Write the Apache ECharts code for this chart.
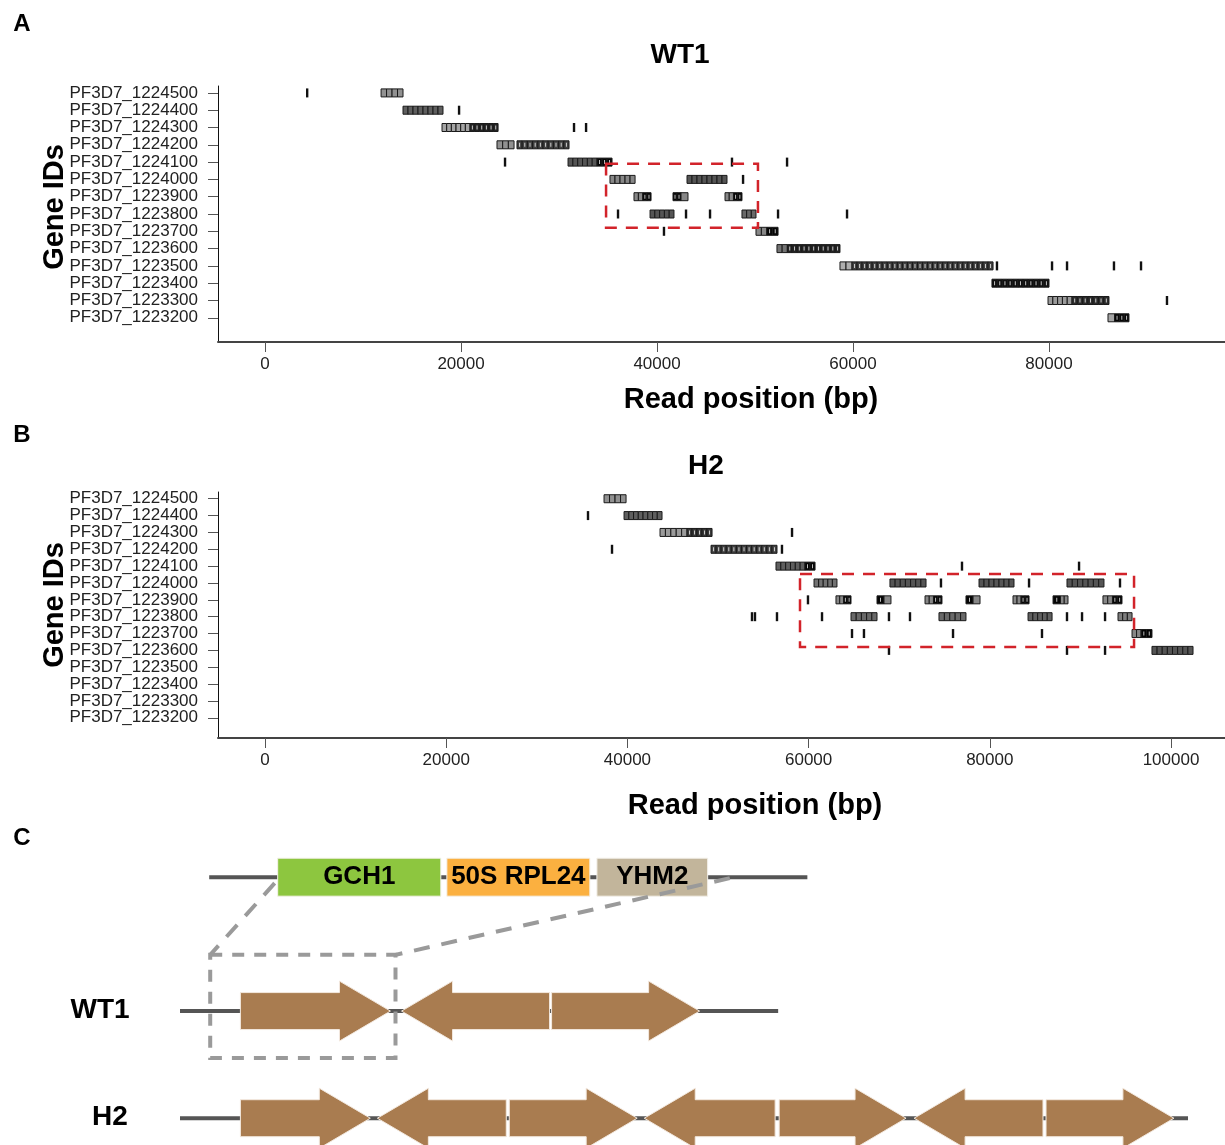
<!DOCTYPE html>
<html>
<head>
<meta charset="utf-8">
<title>Read coverage WT1 / H2</title>
<script src="https://cdn.jsdelivr.net/npm/echarts@6/dist/echarts.min.js"></script>
<style>
  html, body { margin: 0; padding: 0; background: #fff; }
  #chart { width: 1225px; height: 1145px; }
</style>
</head>
<body>
<div id="chart"></div>
<script>
// gene rows, top to bottom
const geneIds = [
  'PF3D7_1224500', 'PF3D7_1224400', 'PF3D7_1224300', 'PF3D7_1224200',
  'PF3D7_1224100', 'PF3D7_1224000', 'PF3D7_1223900', 'PF3D7_1223800',
  'PF3D7_1223700', 'PF3D7_1223600', 'PF3D7_1223500', 'PF3D7_1223400',
  'PF3D7_1223300', 'PF3D7_1223200'
]
const xTicksA = [0, 20000, 40000, 60000, 80000]
const xTicksB = [0, 20000, 40000, 60000, 80000, 100000]

// read blocks: [start bp, end bp, row, shade 0 light .. 1 black]
const readsA = [
  [11840, 14080, 0, 0.3],
  [14080, 18160, 1, 0.55],
  [18060, 20920, 2, 0.2], [20920, 23780, 2, 0.85],
  [23670, 25410, 3, 0.3], [25710, 31020, 3, 0.7],
  [30920, 33880, 4, 0.6], [33880, 35410, 4, 1],
  [35200, 37760, 5, 0.35], [43060, 47140, 5, 0.6],
  [37650, 38550, 6, 0.35], [38550, 39390, 6, 1], [41630, 42450, 6, 1], [42450, 43160, 6, 0.35],
  [46940, 47800, 6, 0.35], [47800, 48670, 6, 1],
  [39290, 41730, 7, 0.6], [48670, 50100, 7, 0.5],
  [50100, 51200, 8, 0.35], [51200, 52350, 8, 1],
  [52240, 53300, 9, 0.45], [53300, 58670, 9, 0.85],
  [58670, 59900, 10, 0.15], [59900, 74290, 10, 0.7],
  [74180, 80000, 11, 0.95],
  [79900, 82350, 12, 0.25], [82350, 86120, 12, 0.8],
  [86020, 86700, 13, 0.2], [86700, 88160, 13, 1]
]
// isolated single reads: [position bp, row]
const singlesA = [
  [4300, 0], [19800, 1], [31530, 2], [32760, 2], [24490, 4], [47650, 4], [53270, 4],
  [48780, 5], [36020, 7], [42960, 7], [45410, 7], [52350, 7], [59390, 7], [40710, 8],
  [74690, 10], [80310, 10], [81840, 10], [86630, 10], [89390, 10], [92040, 12]
]
const regionA = [[34800, 50300, 4.1, 7.8]]

const readsB = [
  [37420, 39850, 0, 0.3],
  [39630, 43820, 1, 0.55],
  [43600, 46580, 2, 0.25], [46580, 49340, 2, 0.75],
  [49230, 56510, 3, 0.7],
  [56400, 59600, 4, 0.55], [59600, 60710, 4, 1],
  [60600, 63130, 5, 0.45], [68980, 72960, 5, 0.6], [78810, 82670, 5, 0.6], [88520, 92600, 5, 0.6],
  [63020, 63850, 6, 0.35], [63850, 64680, 6, 1], [67550, 68320, 6, 1], [68320, 69090, 6, 0.35],
  [72850, 73780, 6, 0.35], [73780, 74720, 6, 1], [77370, 78150, 6, 1], [78150, 78920, 6, 0.35],
  [82560, 83450, 6, 0.35], [83450, 84330, 6, 1], [86980, 87800, 6, 1], [87800, 88630, 6, 0.35],
  [92490, 93540, 6, 0.35], [93540, 94590, 6, 1],
  [64680, 67550, 7, 0.5], [74390, 77370, 7, 0.5], [84220, 86870, 7, 0.55], [94150, 95700, 7, 0.4],
  [95700, 96700, 8, 0.35], [96700, 97900, 8, 1],
  [97900, 102430, 9, 0.6]
]
const singlesB = [
  [35650, 1], [58170, 2], [38300, 3], [57060, 3], [76930, 4], [89850, 4],
  [74610, 5], [84330, 5], [94370, 5], [59930, 6],
  [53750, 7], [54080, 7], [56510, 7], [61480, 7], [68870, 7], [71190, 7], [88520, 7], [90180, 7], [92720, 7],
  [64790, 8], [66110, 8], [75940, 8], [85760, 8],
  [68870, 9], [88520, 9], [92720, 9]
]
const regionB = [[59050, 95920, 4.46, 8.8]]

// panel C schematic (x in % of track, lane: 0 = locus, 1 = WT1, 1.8 = H2)
const backbones = [[2.9, 62.3, 0], [0, 59.4, 1], [0, 100.1, 1.8]]
const locusGenes = [[9.7, 25.9, 0, 'GCH1'], [26.5, 40.7, 0, '50S RPL24'], [41.4, 52.4, 0, 'YHM2']]
const wt1Units = [[6.0, 20.9, 1, 1], [22.0, 36.7, 1, -1], [36.9, 51.6, 1, 1]]
const h2Units = [
  [6.0, 18.9, 1.8, 1], [19.6, 32.4, 1.8, -1], [32.7, 45.4, 1.8, 1], [46.1, 59.1, 1.8, -1],
  [59.5, 72.1, 1.8, 1], [72.9, 85.7, 1.8, -1], [86.0, 98.7, 1.8, 1]
]
const zoomBox = [[3.0, 21.4, 0.58, 1.35]]
const zoomLinks = [[9.4, 0.045, 3.0, 0.58], [54.6, 0.007, 21.4, 0.58]]

const geneColors = { 'GCH1': '#8dc63f', '50S RPL24': '#fbb040', 'YHM2': '#c2b59b' }
const FONT = "'Liberation Sans', Arial, Helvetica, sans-serif"

const chart = echarts.init(document.getElementById('chart'))

const grey = (s) => {
  const g = Math.round(205 - 200 * s)
  return `rgb(${g},${g},${g})`
}

function renderReads(params, api) {
  const s = api.coord([api.value(0), api.value(2)])
  const e = api.coord([api.value(1), api.value(2)])
  const shade = api.value(3)
  const h = 8
  const w = Math.max(e[0] - s[0], 3)
  const n = Math.max(1, Math.round(w / 5))
  const cw = w / n
  const children = []
  for (let i = 0; i < n; i++) {
    children.push({
      type: 'rect',
      shape: { x: s[0] + i * cw, y: s[1] - h / 2, width: cw, height: h },
      style: { fill: grey(shade), stroke: '#1a1a1a', lineWidth: 1 }
    })
    if (shade > 0.6) {
      children.push({
        type: 'rect',
        shape: { x: s[0] + i * cw + cw / 2 - 0.5, y: s[1] - 2, width: 1, height: 4 },
        style: { fill: 'rgba(255,255,255,0.75)' }
      })
    }
  }
  return { type: 'group', children }
}

function renderSingle(params, api) {
  const p = api.coord([api.value(0), api.value(1)])
  return { type: 'rect', shape: { x: p[0] - 1.2, y: p[1] - 4.5, width: 2.4, height: 9 }, style: { fill: '#111' } }
}

function renderRegion(params, api) {
  const a = api.coord([api.value(0), api.value(2)])
  const b = api.coord([api.value(1), api.value(3)])
  return {
    type: 'rect',
    shape: { x: a[0], y: a[1], width: b[0] - a[0], height: b[1] - a[1] },
    style: { fill: 'none', stroke: '#d2232a', lineWidth: 2.5, lineDash: [12, 9] }
  }
}

function readSeries(idx, reads, singles, region) {
  return [
    { type: 'custom', xAxisIndex: idx, yAxisIndex: idx, data: reads, encode: { x: [0, 1], y: 2 }, renderItem: renderReads, silent: true },
    { type: 'custom', xAxisIndex: idx, yAxisIndex: idx, data: singles, encode: { x: 0, y: 1 }, renderItem: renderSingle, silent: true },
    { type: 'custom', xAxisIndex: idx, yAxisIndex: idx, data: region, encode: { x: [0, 1], y: [2, 3] }, renderItem: renderRegion, silent: true, z: 5 }
  ]
}

function xAxisFor(idx, min, max, ticks) {
  return {
    gridIndex: idx, type: 'value', min, max, position: 'bottom',
    axisLine: { show: true, onZero: false, lineStyle: { color: '#444', width: 2 } },
    axisTick: { show: true, customValues: ticks, length: 10, lineStyle: { color: '#555' } },
    axisLabel: { customValues: ticks, fontFamily: FONT, fontSize: 17, color: '#222', margin: 14, formatter: (v) => String(v) },
    splitLine: { show: false }
  }
}

function yAxisFor(idx, min, max) {
  const rows = geneIds.map((g, i) => i)
  return {
    gridIndex: idx, type: 'value', min, max, inverse: true, position: 'left',
    axisLine: { show: true, onZero: false, lineStyle: { color: '#111', width: 1 } },
    axisTick: { show: true, customValues: rows, length: 10, lineStyle: { color: '#555' } },
    axisLabel: {
      customValues: rows, fontFamily: FONT, fontSize: 17, color: '#222', margin: 20,
      formatter: (v) => geneIds[Math.round(v)] || ''
    },
    splitLine: { show: false }
  }
}

// panel C renderers
function renderBackbone(params, api) {
  const a = api.coord([api.value(0), api.value(2)])
  const b = api.coord([api.value(1), api.value(2)])
  return { type: 'line', shape: { x1: a[0], y1: a[1], x2: b[0], y2: b[1] }, style: { stroke: '#555', lineWidth: 4 } }
}

function renderLocusGene(params, api) {
  const a = api.coord([api.value(0), api.value(2)])
  const b = api.coord([api.value(1), api.value(2)])
  const name = locusGenes[params.dataIndex][3]
  return {
    type: 'rect',
    shape: { x: a[0], y: a[1] - 19, width: b[0] - a[0], height: 38 },
    style: { fill: geneColors[name], stroke: '#f4f1ea', lineWidth: 1 },
    textContent: { style: { text: name, font: `bold 26px ${FONT}`, fill: '#000' } },
    textConfig: { position: 'inside' }
  }
}

function renderUnit(params, api) {
  const a = api.coord([api.value(0), api.value(2)])
  const b = api.coord([api.value(1), api.value(2)])
  const dir = api.value(3)
  const y = a[1], hs = 18.5, hh = 30, head = 51
  let pts
  if (dir > 0) {
    const xb = b[0] - head
    pts = [[a[0], y - hs], [xb, y - hs], [xb, y - hh], [b[0], y], [xb, y + hh], [xb, y + hs], [a[0], y + hs]]
  } else {
    const xb = a[0] + head
    pts = [[b[0], y - hs], [xb, y - hs], [xb, y - hh], [a[0], y], [xb, y + hh], [xb, y + hs], [b[0], y + hs]]
  }
  return { type: 'polygon', shape: { points: pts }, style: { fill: '#a97c50', stroke: '#f3e9df', lineWidth: 1 } }
}

function renderZoomBox(params, api) {
  const a = api.coord([api.value(0), api.value(2)])
  const b = api.coord([api.value(1), api.value(3)])
  return {
    type: 'rect',
    shape: { x: a[0], y: a[1], width: b[0] - a[0], height: b[1] - a[1] },
    style: { fill: 'none', stroke: '#9a9a9a', lineWidth: 4, lineDash: [12, 10] }
  }
}

function renderZoomLink(params, api) {
  const a = api.coord([api.value(0), api.value(1)])
  const b = api.coord([api.value(2), api.value(3)])
  return { type: 'line', shape: { x1: a[0], y1: a[1], x2: b[0], y2: b[1] }, style: { stroke: '#9a9a9a', lineWidth: 4, lineDash: [16, 12] } }
}

const cSeries = [
  { type: 'custom', xAxisIndex: 2, yAxisIndex: 2, data: backbones, encode: { x: [0, 1], y: 2 }, renderItem: renderBackbone, silent: true, z: 1 },
  { type: 'custom', xAxisIndex: 2, yAxisIndex: 2, data: locusGenes.map(g => g.slice(0, 3)), encode: { x: [0, 1], y: 2 }, renderItem: renderLocusGene, silent: true, z: 2 },
  { type: 'custom', xAxisIndex: 2, yAxisIndex: 2, data: wt1Units, encode: { x: [0, 1], y: 2 }, renderItem: renderUnit, silent: true, z: 2 },
  { type: 'custom', xAxisIndex: 2, yAxisIndex: 2, data: h2Units, encode: { x: [0, 1], y: 2 }, renderItem: renderUnit, silent: true, z: 2 },
  { type: 'custom', xAxisIndex: 2, yAxisIndex: 2, data: zoomBox, encode: { x: [0, 1], y: [2, 3] }, renderItem: renderZoomBox, silent: true, z: 3 },
  { type: 'custom', xAxisIndex: 2, yAxisIndex: 2, data: zoomLinks, encode: { x: [0, 2], y: [1, 3] }, renderItem: renderZoomLink, silent: true, z: 3 }
]

const txt = (text, x, y, size, rot) => ({
  type: 'text', x, y, rotation: rot || 0,
  style: { text, font: `bold ${size}px ${FONT}`, fill: '#000', align: 'center', verticalAlign: 'middle' }
})

chart.setOption({
  animation: false,
  backgroundColor: '#fff',
  grid: [
    { left: 218, top: 86, width: 1007, height: 256 },
    { left: 218, top: 492, width: 1007, height: 246 },
    { left: 180, top: 837, width: 1007, height: 308 }
  ],
  xAxis: [
    xAxisFor(0, -4800, 97960, xTicksA),
    xAxisFor(1, -5190, 105960, xTicksB),
    { gridIndex: 2, type: 'value', min: 0, max: 100, show: false }
  ],
  yAxis: [
    yAxisFor(0, -0.4, 14.4),
    yAxisFor(1, -0.4, 14.2),
    { gridIndex: 2, type: 'value', min: -0.3, max: 2.0, inverse: true, show: false }
  ],
  series: [
    ...readSeries(0, readsA, singlesA, regionA),
    ...readSeries(1, readsB, singlesB, regionB),
    ...cSeries
  ],
  graphic: [
    txt('A', 22, 24, 24),
    txt('WT1', 680, 55, 28),
    txt('Read position (bp)', 751, 400, 29),
    txt('Gene IDs', 55, 207, 29, Math.PI / 2),
    txt('B', 22, 435, 24),
    txt('H2', 706, 466, 28),
    txt('Read position (bp)', 755, 806, 29),
    txt('Gene IDs', 55, 605, 29, Math.PI / 2),
    txt('C', 22, 838, 24),
    txt('WT1', 100, 1010, 28),
    txt('H2', 110, 1117, 28)
  ]
})

window.addEventListener('resize', () => chart.resize())
</script>
</body>
</html>
